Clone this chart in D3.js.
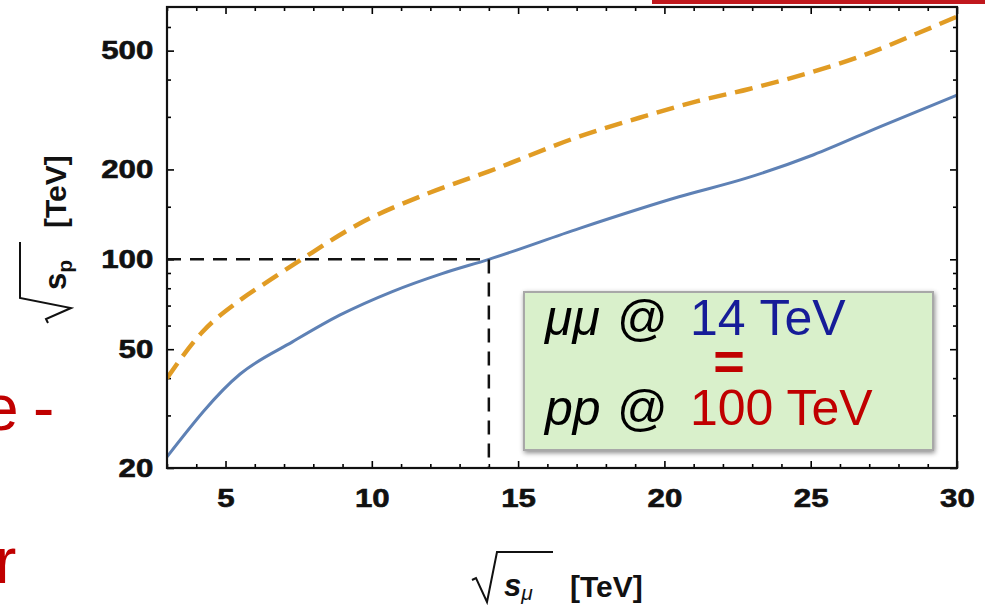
<!DOCTYPE html>
<html>
<head>
<meta charset="utf-8">
<script src="https://cdn.jsdelivr.net/npm/d3@7"></script>
<style>
  body { margin: 0; background: #fff; }
  svg { display: block; }
</style>
</head>
<body>
<div id="chart"></div>
<script>
// sqrt(s_mu) [TeV] and the equivalent sqrt(s_p) [TeV]
let muSolid = [3, 5.5, 7.3, 8.9, 10.7, 12.4, 14, 17.1, 20.5, 22.8, 25.1, 27.4, 30]
let ppSolid = [21.8, 41.3, 53, 65, 78, 89.6, 100, 127, 162, 187, 224, 279, 355]

let muDashed = [3, 4.2, 5.5, 6.5, 7.6, 9.6, 11.9, 14, 17.1, 19.3, 21.1, 22.9, 24.9, 26.8, 28.7, 30]
let ppDashed = [40, 57, 73, 85, 100, 132, 166, 197, 258, 301, 338, 372, 420, 482, 574, 650]

let xMajor = [5, 10, 15, 20, 25, 30]
let yMajor = [20, 50, 100, 200, 500]
let yMinor = [30, 40, 60, 70, 80, 90, 150, 300, 400, 600]

let equivMu = 14
let equivPp = 100

let width = 985
let height = 607
let plotLeft = 167, plotRight = 957, plotTop = 7, plotBottom = 468

let svg = d3.select("#chart")
            .append("svg")
            .attr("width", width)
            .attr("height", height)

let x = d3.scaleLinear().domain([3, 30]).range([plotLeft, plotRight])
let y = d3.scaleLog().domain([20, 700]).range([plotBottom, plotTop])

let xMinor = d3.range(3, 31).filter(d => d % 5 != 0)

let defs = svg.append("defs")

// slide decoration around the figure
svg.append("rect")
    .attr("x", 652).attr("y", 0)
    .attr("width", 333).attr("height", 4)
    .attr("fill", "#c0181d")

let red = "#c00000"
svg.append("text").attr("x", -17).attr("y", 430).text("e")
    .attr("font-family", "Liberation Sans, Arial").attr("font-size", 64).attr("fill", red)
svg.append("text").attr("x", 33).attr("y", 430).text("-")
    .attr("font-family", "Liberation Sans, Arial").attr("font-size", 64).attr("fill", red)
svg.append("text").attr("x", -5).attr("y", 583).text("r")
    .attr("font-family", "Liberation Sans, Arial").attr("font-size", 64).attr("fill", red)

// axes: ticks point inward on all four sides
function styleAxis(g) {
    g.select(".domain").remove()
    g.selectAll(".tick line").attr("stroke", "#000").attr("stroke-width", 1.6)
    g.selectAll("text")
        .attr("font-family", "Liberation Sans, Arial")
        .attr("font-weight", "bold")
        .attr("font-size", 25)
        .attr("fill", "#111")
        .attr("stroke", "#111")
        .attr("stroke-width", 0.6)
        .attr("transform", "scale(1.25,1)")
}

svg.append("g").attr("transform", `translate(0,${plotBottom})`)
    .call(d3.axisBottom(x).tickValues(xMinor).tickSize(-4).tickFormat(""))
    .call(styleAxis)
svg.append("g").attr("transform", `translate(0,${plotBottom})`)
    .call(d3.axisBottom(x).tickValues(xMajor).tickSize(-7).tickPadding(21).tickFormat(d3.format("d")))
    .call(styleAxis)
svg.append("g").attr("transform", `translate(0,${plotTop})`)
    .call(d3.axisTop(x).tickValues(xMinor).tickSize(-4).tickFormat(""))
    .call(styleAxis)
svg.append("g").attr("transform", `translate(0,${plotTop})`)
    .call(d3.axisTop(x).tickValues(xMajor).tickSize(-7).tickFormat(""))
    .call(styleAxis)

svg.append("g").attr("transform", `translate(${plotLeft},0)`)
    .call(d3.axisLeft(y).tickValues(yMinor).tickSize(-4).tickFormat(""))
    .call(styleAxis)
svg.append("g").attr("transform", `translate(${plotLeft},0)`)
    .call(d3.axisLeft(y).tickValues(yMajor).tickSize(-7).tickPadding(11).tickFormat(d3.format("d")))
    .call(styleAxis)
svg.append("g").attr("transform", `translate(${plotRight},0)`)
    .call(d3.axisRight(y).tickValues(yMinor).tickSize(-4).tickFormat(""))
    .call(styleAxis)
svg.append("g").attr("transform", `translate(${plotRight},0)`)
    .call(d3.axisRight(y).tickValues(yMajor).tickSize(-7).tickFormat(""))
    .call(styleAxis)

defs.append("clipPath").attr("id", "plot")
    .append("rect")
    .attr("x", plotLeft).attr("y", plotTop)
    .attr("width", plotRight - plotLeft).attr("height", plotBottom - plotTop)

let line = d3.line()
    .x(d => x(d[0]))
    .y(d => y(d[1]))
    .curve(d3.curveMonotoneX)

let plot = svg.append("g").attr("clip-path", "url(#plot)")

plot.append("path")
    .attr("d", line(d3.zip(muSolid, ppSolid)))
    .attr("fill", "none")
    .attr("stroke", "#5e81b5")
    .attr("stroke-width", 3)

plot.append("path")
    .attr("d", line(d3.zip(muDashed, ppDashed)))
    .attr("fill", "none")
    .attr("stroke", "#e19c24")
    .attr("stroke-width", 4.5)
    .attr("stroke-dasharray", "18,9")

// 14 TeV muon <-> 100 TeV proton guide lines
plot.append("path")
    .attr("d", `M${x(3)},${y(equivPp)}H${x(equivMu)}V${y(20)}`)
    .attr("fill", "none")
    .attr("stroke", "#111")
    .attr("stroke-width", 2.5)
    .attr("stroke-dasharray", "14,9")

svg.append("rect")
    .attr("x", plotLeft).attr("y", plotTop)
    .attr("width", plotRight - plotLeft).attr("height", plotBottom - plotTop)
    .attr("fill", "none")
    .attr("stroke", "#111")
    .attr("stroke-width", 2.2)

// x axis label
svg.append("path")
    .attr("d", "M472,580 L476,578 L487,602 L497,552 L553,552")
    .attr("fill", "none").attr("stroke", "#111").attr("stroke-width", 2)
let xl = svg.append("text")
    .attr("x", 504).attr("y", 596)
    .attr("font-family", "Liberation Sans, Arial")
    .attr("font-size", 31).attr("fill", "#111")
xl.append("tspan").attr("font-weight", "bold").attr("font-style", "italic").text("s")
xl.append("tspan").attr("font-style", "italic").attr("font-size", 21).attr("dy", 4).text("μ")
svg.append("text")
    .attr("x", 570).attr("y", 597)
    .attr("font-family", "Liberation Sans, Arial")
    .attr("font-size", 30).attr("font-weight", "bold").attr("fill", "#111")
    .text("[TeV]")

// y axis label (rotated)
let yl = svg.append("g").attr("transform", "translate(66,290) rotate(-90)")
yl.append("path")
    .attr("d", "M-33,-18 L-29,-20 L-18,5 L-8,-46 L48,-46")
    .attr("fill", "none").attr("stroke", "#111").attr("stroke-width", 2)
let ylt = yl.append("text")
    .attr("x", 0).attr("y", 0)
    .attr("font-family", "Liberation Sans, Arial")
    .attr("font-size", 31).attr("font-weight", "bold").attr("fill", "#111")
ylt.append("tspan").text("s")
ylt.append("tspan").attr("font-size", 21).attr("dy", 6).text("p")
yl.append("text")
    .attr("x", 62).attr("y", 0)
    .attr("font-family", "Liberation Sans, Arial")
    .attr("font-size", 30).attr("font-weight", "bold").attr("fill", "#111")
    .text("[TeV]")

// annotation box
let filter = defs.append("filter").attr("id", "shadow")
    .attr("x", "-10%").attr("y", "-10%").attr("width", "120%").attr("height", "120%")
filter.append("feDropShadow")
    .attr("dx", 1).attr("dy", 2).attr("stdDeviation", 2.5)
    .attr("flood-color", "#000").attr("flood-opacity", 0.45)

svg.append("rect")
    .attr("x", 524).attr("y", 292)
    .attr("width", 409).attr("height", 158)
    .attr("fill", "#d9f0cb")
    .attr("stroke", "#a8a8a8")
    .attr("stroke-width", 2)
    .attr("filter", "url(#shadow)")

let boxFont = "Liberation Sans, Arial"
let line1 = svg.append("text").attr("y", 335)
    .attr("font-family", boxFont).attr("font-size", 50)
line1.append("tspan").attr("x", 545).attr("font-style", "italic").attr("fill", "#000").text("μμ")
line1.append("tspan").attr("x", 617).attr("fill", "#000").text("@")
line1.append("tspan").attr("x", 690).attr("fill", "#161c98").text("14 TeV")

svg.append("text")
    .attr("x", 729).attr("y", 380)
    .attr("text-anchor", "middle")
    .attr("font-family", boxFont).attr("font-size", 54).attr("font-weight", "bold")
    .attr("fill", red)
    .text("=")

let line2 = svg.append("text").attr("y", 425)
    .attr("font-family", boxFont).attr("font-size", 50)
line2.append("tspan").attr("x", 545).attr("font-style", "italic").attr("fill", "#000").text("pp")
line2.append("tspan").attr("x", 617).attr("fill", "#000").text("@")
line2.append("tspan").attr("x", 690).attr("fill", red).text("100 TeV")
</script>
</body>
</html>
